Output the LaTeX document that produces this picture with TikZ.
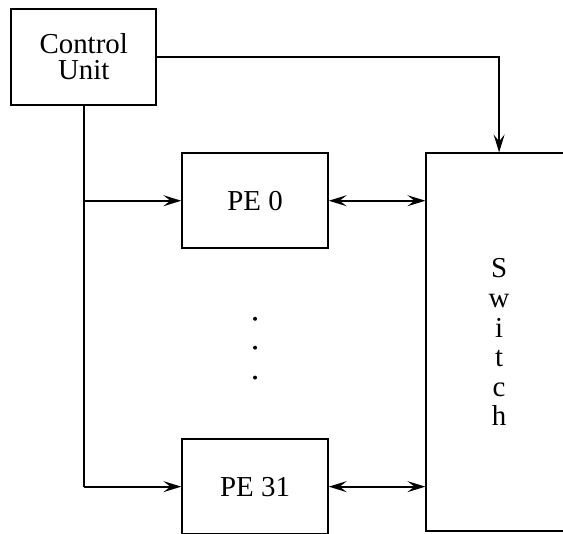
\documentclass[tikz,border=0pt]{standalone}
\usepackage{fontspec}
\setmainfont{Liberation Serif}
\usetikzlibrary{positioning, arrows.meta}

\begin{document}
\begin{tikzpicture}[
  >={Stealth[length=0.36cm, width=0.22cm, inset=0.14cm]},
  every node/.style={font=\fontsize{16.5}{15}\selectfont},
  unit/.style={
    draw, line width=1.1pt, inner sep=0pt,
    minimum width=2.92cm, minimum height=1.9cm, align=center,
  },
  arr/.style={->, line width=1.1pt},
  darr/.style={<->, line width=1.1pt},
  link/.style={line width=1.1pt},
]
\useasboundingbox (0,0) rectangle (11.30,-10.70);

% === CONTROL UNIT ===
\node[unit, minimum height=1.92cm] (cu) at (1.68,-1.14) {Control\\Unit};

% === PROCESSING ELEMENTS ===
\node[unit, below right=0.94cm and 0.48cm of cu.south east, anchor=north west] (pe0) {PE 0};
\node[unit, below=3.8cm of pe0] (pe31) {PE 31};

% dots between the PEs
\foreach \dy in {1.40,1.98,2.58}
  \fill ([yshift=-\dy cm]pe0.south) circle (0.04);

% === SWITCH ===
\node[unit, minimum height=7.58cm, right=1.94cm of pe0.north east, anchor=north west,
  font=\fontsize{16.5}{16.9}\selectfont] (sw) {S\\w\\i\\t\\c\\h};

% control lines
\draw[arr] (cu.east) -| (sw.north);
\draw[link] (cu.south) -- (cu.south |- pe31.west);
\draw[arr] (cu.south |- pe0.west) -- (pe0.west);
\draw[arr] (cu.south |- pe31.west) -- (pe31.west);

% data paths to the switch
\draw[darr] (pe0.east) -- (pe0.east -| sw.west);
\draw[darr] (pe31.east) -- (pe31.east -| sw.west);

\end{tikzpicture}
\end{document}
